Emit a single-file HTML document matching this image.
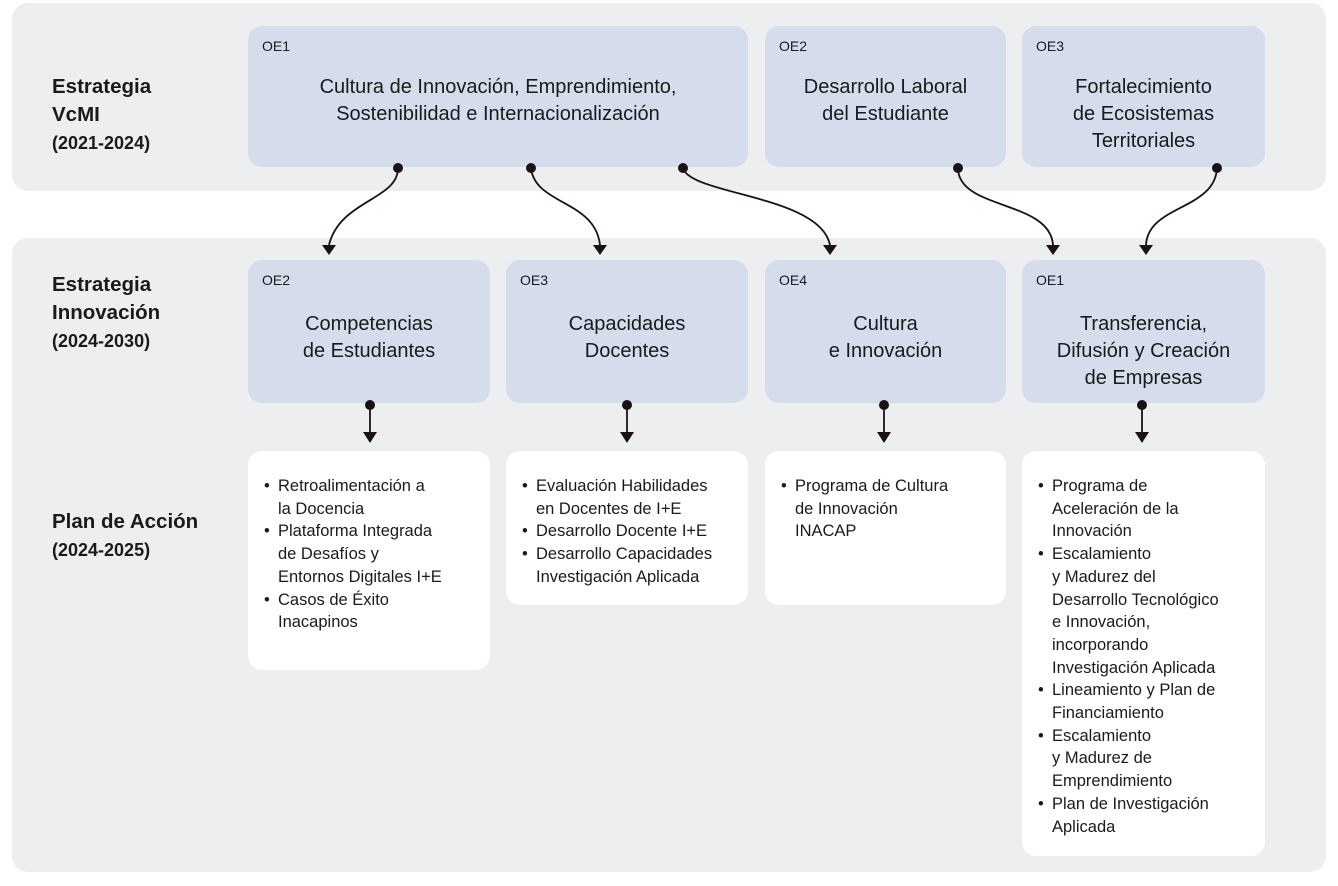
<!DOCTYPE html>
<html><head><meta charset="utf-8"><style>
body{margin:0;width:1338px;height:886px;background:#fff;position:relative;overflow:hidden;font-family:"Liberation Sans",sans-serif;color:#1a1a1a}
.p{position:absolute;background:#edeef0;border-radius:16px}
.b{position:absolute;background:#d5dcec;border-radius:14px}
.w{position:absolute;background:#fff;border-radius:14px}
.oe{position:absolute;left:14px;top:12px;font-size:14px}
.t{position:absolute;left:0;right:0;text-align:center;font-size:20px;line-height:27px}
.lab{position:absolute;left:52px;font-weight:bold;font-size:20.5px;line-height:28px}
.lab small{font-size:18px}
ul{margin:0;padding:0 0 0 30px;font-size:16.5px;line-height:22.7px;position:absolute;top:24px;white-space:nowrap}
li{list-style:none;position:relative}
li:before{content:"•";position:absolute;left:-14px}
</style></head><body>
<div class="p" style="left:12px;top:3px;width:1314px;height:188px"></div>
<div class="p" style="left:12px;top:238px;width:1314px;height:634px"></div>

<div class="lab" style="top:73px">Estrategia<br>VcMI<br><small>(2021-2024)</small></div>
<div class="lab" style="top:271px">Estrategia<br>Innovación<br><small>(2024-2030)</small></div>
<div class="lab" style="top:508px">Plan de Acción<br><small>(2024-2025)</small></div>

<div class="b" style="left:248px;top:26px;width:500px;height:141px"><div class="oe">OE1</div><div class="t" style="top:48px">Cultura de Innovación, Emprendimiento,<br>Sostenibilidad e Internacionalización</div></div>
<div class="b" style="left:765px;top:26px;width:241px;height:141px"><div class="oe">OE2</div><div class="t" style="top:48px">Desarrollo Laboral<br>del Estudiante</div></div>
<div class="b" style="left:1022px;top:26px;width:243px;height:141px"><div class="oe">OE3</div><div class="t" style="top:48px">Fortalecimiento<br>de Ecosistemas<br>Territoriales</div></div>

<div class="b" style="left:248px;top:260px;width:242px;height:143px"><div class="oe">OE2</div><div class="t" style="top:51px">Competencias<br>de Estudiantes</div></div>
<div class="b" style="left:506px;top:260px;width:242px;height:143px"><div class="oe">OE3</div><div class="t" style="top:51px">Capacidades<br>Docentes</div></div>
<div class="b" style="left:765px;top:260px;width:241px;height:143px"><div class="oe">OE4</div><div class="t" style="top:51px">Cultura<br>e Innovación</div></div>
<div class="b" style="left:1022px;top:260px;width:243px;height:143px"><div class="oe">OE1</div><div class="t" style="top:51px">Transferencia,<br>Difusión y Creación<br>de Empresas</div></div>

<div class="w" style="left:248px;top:451px;width:242px;height:219px"><ul><li>Retroalimentación a<br>la Docencia</li><li>Plataforma Integrada<br>de Desafíos y<br>Entornos Digitales I+E</li><li>Casos de Éxito<br>Inacapinos</li></ul></div>
<div class="w" style="left:506px;top:451px;width:242px;height:154px"><ul><li>Evaluación Habilidades<br>en Docentes de I+E</li><li>Desarrollo Docente I+E</li><li>Desarrollo Capacidades<br>Investigación Aplicada</li></ul></div>
<div class="w" style="left:765px;top:451px;width:241px;height:154px"><ul><li>Programa de Cultura<br>de Innovación<br>INACAP</li></ul></div>
<div class="w" style="left:1022px;top:451px;width:243px;height:405px"><ul><li>Programa de<br>Aceleración de la<br>Innovación</li><li>Escalamiento<br>y Madurez del<br>Desarrollo Tecnológico<br>e Innovación,<br>incorporando<br>Investigación Aplicada</li><li>Lineamiento y Plan de<br>Financiamiento</li><li>Escalamiento<br>y Madurez de<br>Emprendimiento</li><li>Plan de Investigación<br>Aplicada</li></ul></div>

<svg width="1338" height="886" style="position:absolute;left:0;top:0" fill="none" stroke="#1a1212" stroke-width="1.8">
<g fill="#1a1212" stroke="none">
<circle cx="398" cy="168" r="5"/><circle cx="531" cy="168" r="5"/><circle cx="683" cy="168" r="5"/><circle cx="958" cy="168" r="5"/><circle cx="1217" cy="168" r="5"/>
<circle cx="370" cy="405" r="5"/><circle cx="627" cy="405" r="5"/><circle cx="884" cy="405" r="5"/><circle cx="1142" cy="405" r="5"/>
<path d="M322 245h14l-7 10z"/><path d="M593 245h14l-7 10z"/><path d="M823 245h14l-7 10z"/><path d="M1046 245h14l-7 10z"/><path d="M1139 245h14l-7 10z"/>
<path d="M363 432h14l-7 11z"/><path d="M620 432h14l-7 11z"/><path d="M877 432h14l-7 11z"/><path d="M1135 432h14l-7 11z"/>
</g>
<path d="M398 168C398 200 340 200 329 245"/>
<path d="M531 168C535 205 595 200 600 245"/>
<path d="M683 168C690 195 820 195 830 245"/>
<path d="M958 168C958 210 1050 200 1053 245"/>
<path d="M1217 168C1215 210 1148 205 1146 245"/>
<path d="M370 405V433M627 405V433M884 405V433M1142 405V433"/>
</svg>
</body></html>
